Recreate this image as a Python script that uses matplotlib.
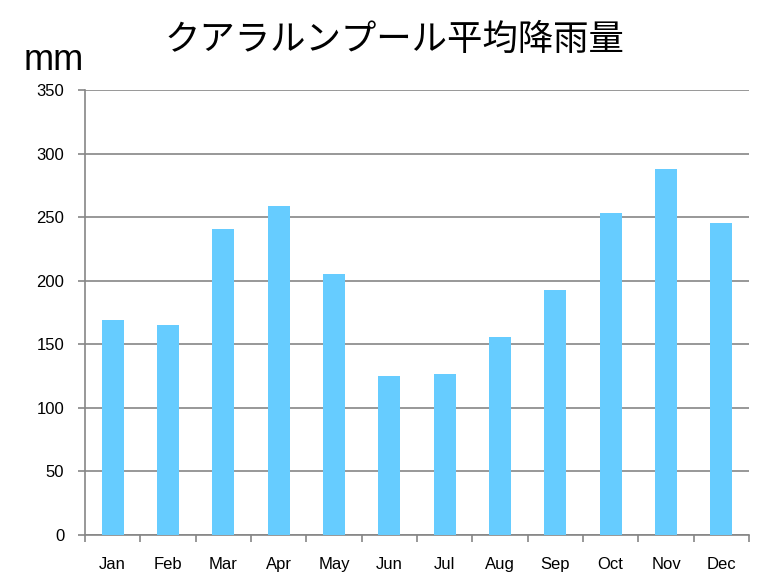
import matplotlib
matplotlib.use("Agg")
import matplotlib.pyplot as plt
import numpy as np

# monthly average rainfall, Kuala Lumpur (mm)
months = ["Jan", "Feb", "Mar", "Apr", "May", "Jun",
          "Jul", "Aug", "Sep", "Oct", "Nov", "Dec"]
rainfall = [169, 165, 241, 259, 205, 125, 127, 156, 193, 253, 288, 245]
y_ticks = [0, 50, 100, 150, 200, 250, 300, 350]

BAR_COLOR = "#66CCFF"
GRID_COLOR = "#868686"

fig = plt.figure(figsize=(7.71, 5.87), dpi=100)
ax = fig.add_axes([0.1102, 0.0886, 0.8613, 0.7581])

x = np.arange(len(months))
ax.bar(x, rainfall, width=0.4, color=BAR_COLOR, zorder=3)

ax.set_xlim(-0.5, len(months) - 0.5)
ax.set_ylim(0, 350)
ax.set_yticks(y_ticks)
ax.set_yticklabels([str(v) for v in y_ticks], fontsize=12, family="Liberation Sans")

# month labels centred, tick marks on the category boundaries
ax.set_xticks(x)
ax.set_xticklabels(months, fontsize=12, family="Liberation Sans")
ax.tick_params(axis="x", length=0, pad=16)
ax.set_xticks(np.arange(-0.5, len(months)), minor=True)
ax.tick_params(axis="x", which="minor", length=5, color=GRID_COLOR, width=1.2)
ax.tick_params(axis="y", length=5, color=GRID_COLOR, width=1.2, pad=10)

ax.grid(axis="y", color=GRID_COLOR, linewidth=1.2, zorder=0)
for side in ("top", "right"):
    ax.spines[side].set_visible(False)
for side in ("left", "bottom"):
    ax.spines[side].set_color(GRID_COLOR)
    ax.spines[side].set_linewidth(1.2)

fig.text(0.512, 0.932, "クアラルンプール平均降雨量", ha="center", va="center",
         fontsize=25.5, family=["Noto Sans CJK JP", "DejaVu Sans"])
fig.text(0.031, 0.897, "mm", ha="left", va="center", fontsize=26,
         family="Liberation Sans")

fig.savefig("out.png", dpi=100)
